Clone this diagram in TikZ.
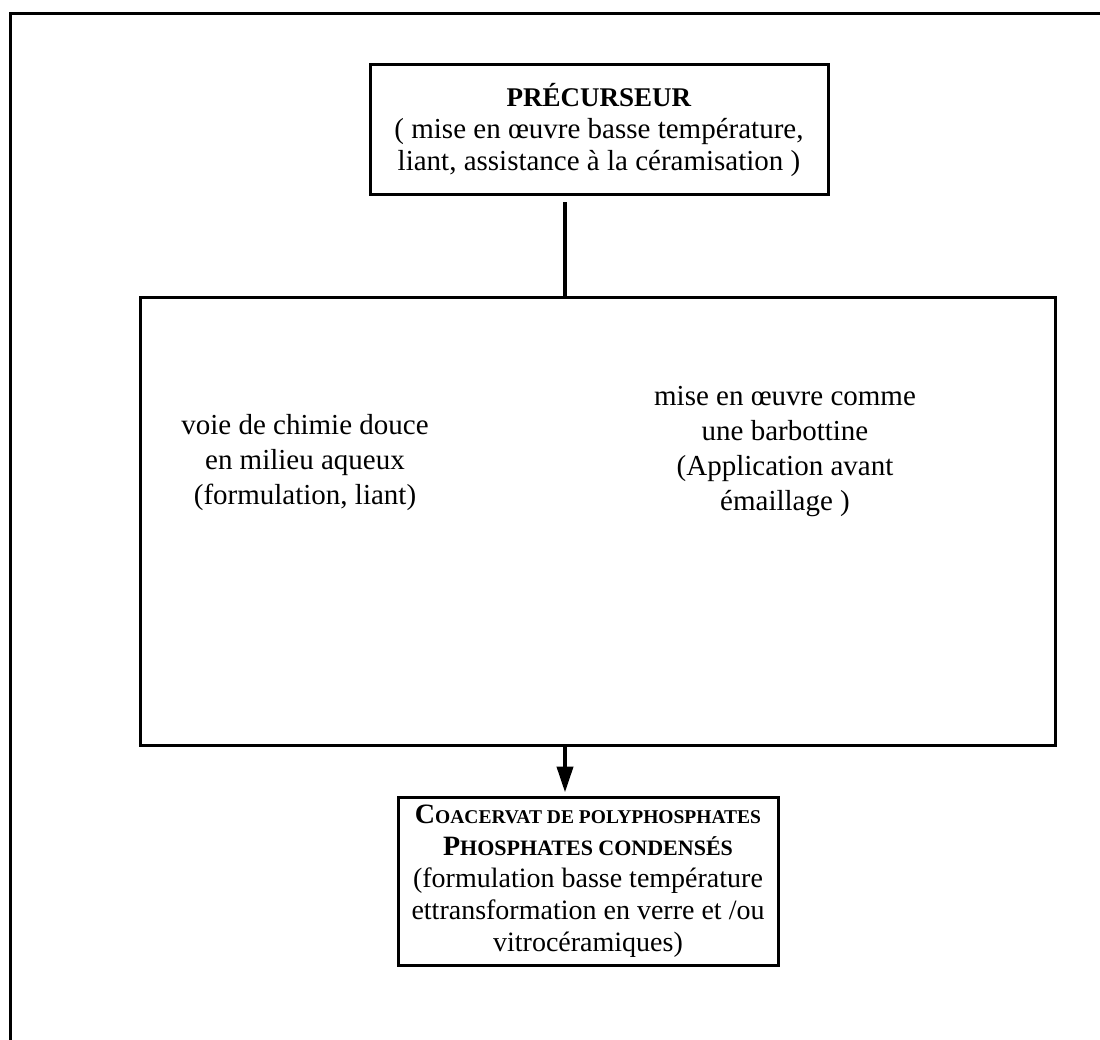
\documentclass[tikz,border=0pt]{standalone}
\usepackage{fontspec}
\setmainfont{Liberation Serif}
\usetikzlibrary{arrows.meta}
% small capitals built from reduced upper-case letters
\newcommand\petitescap[2]{{\fontsize{#1}{32}\selectfont #2}}
\begin{document}
\begin{tikzpicture}[x=1pt,y=-1pt,
  box/.style={draw, line width=3pt, inner sep=0pt, align=center},
  txt/.style={align=center, font=\fontsize{29}{35}\selectfont},
  link/.style={line width=4pt}]
\useasboundingbox (0,0) rectangle (1100,1040);
% page frame, open on the right and at the bottom
\coordinate (framebl) at (10,1045);
\coordinate (frametl) at (10,14);
\coordinate (frametr) at (1105,14);
\draw[line width=3pt] (framebl) -- (frametl) -- (frametr);
% boxes
\node[box, align=center, font=\fontsize{29}{32}\selectfont, minimum width=458pt, minimum height=130pt] (prec) at (599,130)
  {{\fontsize{27}{32}\selectfont\textbf{PRÉCURSEUR}}\\( mise en œuvre basse température,\\liant, assistance à la céramisation )};
\node[box, minimum width=915pt, minimum height=447pt] (mid) at (597.5,521.5) {};
\node[txt] (voie) at (305,463) {voie de chimie douce\\en milieu aqueux\\(formulation, liant)};
\node[txt] (barb) at (785,452) {mise en œuvre comme\\une barbottine\\(Application avant\\émaillage )};
\node[box, txt, font=\fontsize{28}{32}\selectfont, minimum width=380pt, minimum height=168pt] (coac) at (588,881)
  {\textbf{C\petitescap{19.5}{OACERVAT DE POLYPHOSPHATES}}\\
   \textbf{P\petitescap{22}{HOSPHATES CONDENSÉS}}\\
   (formulation basse température\\
   ettransformation en verre et /ou\\
   vitrocéramiques)};
% connectors
\coordinate (axe) at (565,0);
\draw[link, shorten <=6pt] (prec.south -| axe) -- (mid.north -| axe);
\draw[link, -{Triangle[length=26pt,width=16pt]}, shorten >=3pt] (mid.south -| axe) -- (coac.north -| axe);
\end{tikzpicture}
\end{document}
